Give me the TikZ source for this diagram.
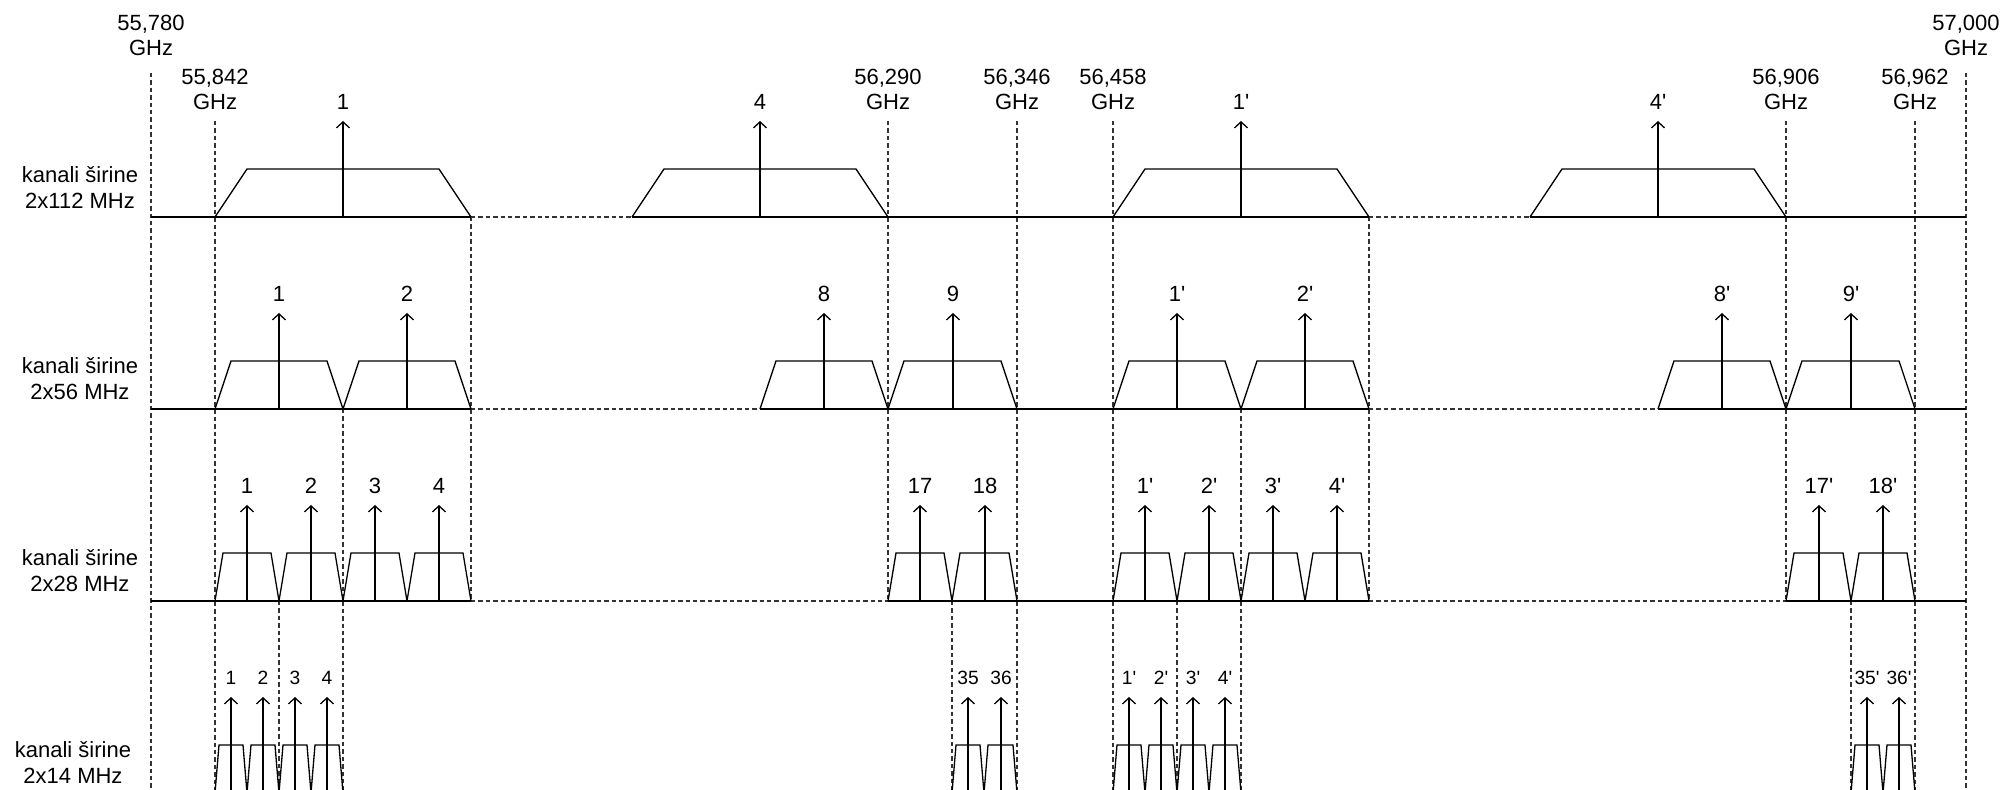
\documentclass[tikz,border=0pt]{standalone}
\usepackage{fontspec}
\setmainfont{Liberation Sans}
\usetikzlibrary{arrows.meta}
\newcommand{\pr}{\textquotesingle}
% #1 left, #2 right, #3 baseline, #4 slant, #5 label text, #6 node name, #7 label style
\newcommand{\chan}[7]{%
  \draw[solidline] (#1,#3) -- ({#1+#4},{#3-48}) -- ({#2-#4},{#3-48}) -- (#2,#3);
  \coordinate (#6b) at ({round((#1+#2)/2)},#3);
  \coordinate (#6t) at ({round((#1+#2)/2)},{#3-96});
  \draw[carrow] (#6b) -- (#6t);
  \node[#7] (#6) at ({round((#1+#2)/2)},{#3-115}) {#5};
}
\begin{document}
\begin{tikzpicture}[x=0.5pt,y=-0.5pt,
  solidline/.style={line width=0.65pt,black},
  dsh/.style={line width=0.55pt,black!80,dash pattern=on 2.2pt off 1.5pt},
  carrow/.style={line width=0.65pt,-{Straight Barb[length=3pt,width=6.5pt]}},
  clab/.style={font=\fontsize{11}{13}\selectfont,inner sep=0pt},
  slab/.style={font=\fontsize{9.6}{11}\selectfont,inner sep=0pt},
  flab/.style={font=\fontsize{11}{12.5}\selectfont,align=center,inner sep=0pt},
  rlab/.style={font=\fontsize{11}{13}\selectfont,align=center,inner sep=0pt}]
\useasboundingbox (0,0) rectangle (2004,790);
\clip (0,0) rectangle (2004,790);

% frequency labels
\node[flab] (f1) at (151,35)  {55,780\\GHz};
\node[flab] (f2) at (215,89)  {55,842\\GHz};
\node[flab] (f3) at (888,89)  {56,290\\GHz};
\node[flab] (f4) at (1017,89) {56,346\\GHz};
\node[flab] (f5) at (1113,89) {56,458\\GHz};
\node[flab] (f6) at (1786,89) {56,906\\GHz};
\node[flab] (f7) at (1915,89) {56,962\\GHz};
\node[flab] (f8) at (1966,35) {57,000\\GHz};

% row labels
\node[rlab] (r1) at (80,187) {kanali širine\\2x112 MHz};
\node[rlab] (r2) at (80,379) {kanali širine\\2x56 MHz};
\node[rlab] (r3) at (80,571) {kanali širine\\2x28 MHz};
\node[rlab] (r4) at (73,762) {kanali širine\\2x14 MHz};

% vertical dashed lines
\foreach \x/\ya/\yb in {151/73/790, 215/121/790, 279/601/790, 343/409/790,
  471/217/601, 888/121/601, 952/601/790, 1017/121/790, 1113/121/790,
  1177/601/790, 1241/409/790, 1369/217/601, 1786/121/601, 1851/601/790,
  1915/121/790, 1966/73/790}
  \draw[dsh] (\x,\ya) -- (\x,\yb);

% baselines
\draw[solidline] (151,217) -- (471,217);
\draw[dsh] (471,217) -- (632,217);
\draw[solidline] (632,217) -- (1369,217);
\draw[dsh] (1369,217) -- (1530,217);
\draw[solidline] (1530,217) -- (1966,217);

\draw[solidline] (151,409) -- (471,409);
\draw[dsh] (471,409) -- (760,409);
\draw[solidline] (760,409) -- (1369,409);
\draw[dsh] (1369,409) -- (1658,409);
\draw[solidline] (1658,409) -- (1966,409);

\draw[solidline] (151,601) -- (471,601);
\draw[dsh] (471,601) -- (888,601);
\draw[solidline] (888,601) -- (1369,601);
\draw[dsh] (1369,601) -- (1786,601);
\draw[solidline] (1786,601) -- (1966,601);

% row 1: 2x112 MHz
\chan{215}{471}{217}{32}{1}{a1}{clab}
\chan{632}{888}{217}{32}{4}{a4}{clab}
\chan{1113}{1369}{217}{32}{1\pr}{a1p}{clab}
\chan{1530}{1786}{217}{32}{4\pr}{a4p}{clab}

% row 2: 2x56 MHz
\chan{215}{343}{409}{16}{1}{b1}{clab}
\chan{343}{471}{409}{16}{2}{b2}{clab}
\chan{760}{888}{409}{16}{8}{b8}{clab}
\chan{888}{1017}{409}{16}{9}{b9}{clab}
\chan{1113}{1241}{409}{16}{1\pr}{b1p}{clab}
\chan{1241}{1369}{409}{16}{2\pr}{b2p}{clab}
\chan{1658}{1786}{409}{16}{8\pr}{b8p}{clab}
\chan{1786}{1915}{409}{16}{9\pr}{b9p}{clab}

% row 3: 2x28 MHz
\chan{215}{279}{601}{8}{1}{c1}{clab}
\chan{279}{343}{601}{8}{2}{c2}{clab}
\chan{343}{407}{601}{8}{3}{c3}{clab}
\chan{407}{471}{601}{8}{4}{c4}{clab}
\chan{888}{952}{601}{8}{17}{c17}{clab}
\chan{952}{1017}{601}{8}{18}{c18}{clab}
\chan{1113}{1177}{601}{8}{1\pr}{c1p}{clab}
\chan{1177}{1241}{601}{8}{2\pr}{c2p}{clab}
\chan{1241}{1305}{601}{8}{3\pr}{c3p}{clab}
\chan{1305}{1369}{601}{8}{4\pr}{c4p}{clab}
\chan{1786}{1851}{601}{8}{17\pr}{c17p}{clab}
\chan{1851}{1915}{601}{8}{18\pr}{c18p}{clab}

% row 4: 2x14 MHz
\chan{215}{247}{793}{4}{1}{d1}{slab}
\chan{247}{279}{793}{4}{2}{d2}{slab}
\chan{279}{311}{793}{4}{3}{d3}{slab}
\chan{311}{343}{793}{4}{4}{d4}{slab}
\chan{952}{984}{793}{4}{35}{d35}{slab}
\chan{984}{1017}{793}{4}{36}{d36}{slab}
\chan{1113}{1145}{793}{4}{1\pr}{d1p}{slab}
\chan{1145}{1177}{793}{4}{2\pr}{d2p}{slab}
\chan{1177}{1209}{793}{4}{3\pr}{d3p}{slab}
\chan{1209}{1241}{793}{4}{4\pr}{d4p}{slab}
\chan{1851}{1883}{793}{4}{35\pr}{d35p}{slab}
\chan{1883}{1915}{793}{4}{36\pr}{d36p}{slab}
\end{tikzpicture}
\end{document}
